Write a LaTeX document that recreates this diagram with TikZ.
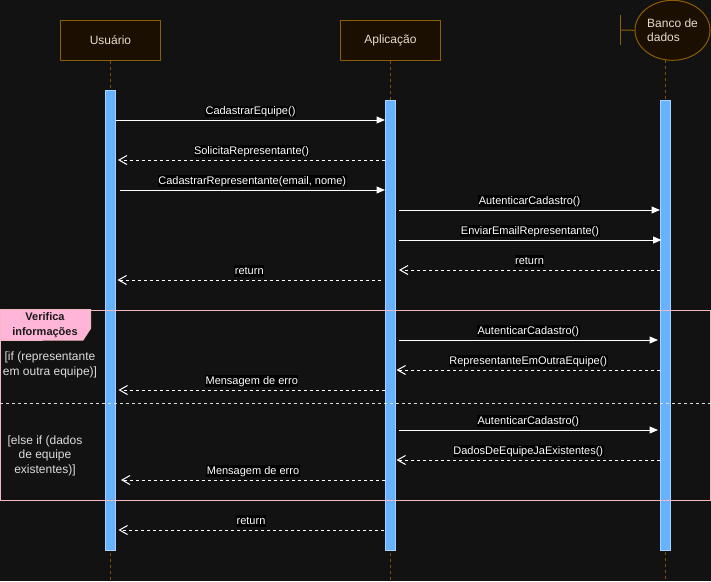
\documentclass[tikz,border=0pt]{standalone}
\usepackage{fontspec}
\setmainfont{Liberation Sans}
\usetikzlibrary{arrows.meta,shapes.geometric,calc}
\definecolor{bgc}{HTML}{121212}
\definecolor{boxfill}{HTML}{1A0F00}
\definecolor{boxdraw}{HTML}{8C5E00}
\definecolor{boxtext}{HTML}{E6DCCB}
\definecolor{lifec}{HTML}{7A5200}
\definecolor{barfill}{HTML}{66B2FF}
\definecolor{bardraw}{HTML}{A6D2FF}
\definecolor{framec}{HTML}{F4B8C0}
\definecolor{tabc}{HTML}{FFB5D8}
\definecolor{condc}{HTML}{DCDCDC}
\begin{document}
\begin{tikzpicture}[x=1pt,y=-1pt,
  actorbox/.style={rectangle, draw=boxdraw, fill=boxfill, line width=1pt, minimum width=100pt, minimum height=40pt, inner sep=0pt, text=boxtext, font=\fontsize{12}{14}\selectfont},
  entitybox/.style={ellipse, draw=boxdraw, fill=boxfill, line width=1pt, minimum width=75pt, minimum height=60pt, inner sep=0pt, text=boxtext, align=left, font=\fontsize{12}{14}\selectfont},
  lifeline/.style={draw=lifec, line width=1pt, dash pattern=on 3pt off 3pt},
  actbar/.style={rectangle, draw=bardraw, fill=barfill, line width=1pt, minimum width=10pt, inner sep=0pt},
  msg/.style={draw=white, line width=1pt, -{Triangle[length=8.5pt,width=7pt]}},
  reply/.style={draw=white, line width=1pt, dash pattern=on 3pt off 3pt, -{Straight Barb[length=8pt,width=9pt]}},
  lbl/.style={fill=black, text=white, inner sep=0.5pt, text height=8.3pt, text depth=2.3pt, font=\fontsize{11}{13}\selectfont},
  framebox/.style={rectangle, draw=framec, line width=1pt, inner sep=0pt},
  cond/.style={text=condc, align=center, inner sep=0pt, font=\fontsize{12}{14.5}\selectfont},
]
\fill[bgc] (0,0) rectangle (711,581);
\useasboundingbox (0,0) rectangle (711,581);

% participants
\node[actorbox] (u) at (110.5,40) {Usuário};
\node[actorbox] (a) at (390.5,40) {Aplicação};
\node[entitybox] (b) at (672.5,30.3) {Banco de\\dados};
\coordinate (bbar) at (620.5,15);
\coordinate (bbarend) at (620.5,45);
\draw[draw=boxdraw, line width=1pt] (bbar) -- (bbarend);
\draw[draw=boxdraw, line width=1pt] ($(bbar)!0.5!(bbarend)$) -- (b.west);

% lifelines
\draw[lifeline] (u.south) -- (u.south |- 0,581);
\draw[lifeline] (a.south) -- (a.south |- 0,581);
\coordinate (blife) at (665.5,60);
\draw[lifeline] (blife) -- (blife |- 0,581);

% activation bars
\node[actbar, minimum height=460pt] (ua) at (110.5,320) {};
\node[actbar, minimum height=450pt] (aa) at (390.5,325) {};
\node[actbar, minimum height=450pt] (ba) at (665.5,325) {};

% frame
\node[framebox, minimum width=709.5pt, minimum height=190pt] (fr) at (355.25,405) {};
\draw[draw=framec, fill=tabc, line width=1pt] (fr.north west) -- ++(90.5,0) -- ++(0,19) -- ++(-7.5,11.5) -- (fr.west |- 0,340.5) -- cycle;
\node[text=black!90, align=center, inner sep=0pt, font=\bfseries\fontsize{11}{14.5}\selectfont] (frt) at (45,325) {Verifica\\informações};
\draw[draw=condc, line width=1pt, dash pattern=on 3pt off 3pt] (fr.west |- 0,403.5) -- (fr.east |- 0,403.5);
\node[cond] (c1) at (50,365) {[if (representante\\em outra equipe)]};
\node[cond] (c2) at (45,455.5) {[else if (dados\\de equipe\\existentes)]};

% messages
\draw[msg] (ua.east |- 0,120) -- (aa.west |- 0,120) node[lbl, midway, yshift=8.5pt] {CadastrarEquipe()};
\draw[reply] (aa.west |- 0,160) -- ([xshift=2pt]ua.east |- 0,160) node[lbl, midway, yshift=9pt] {SolicitaRepresentante()};
\draw[msg] ([xshift=3.5pt]ua.east |- 0,190) -- (aa.west |- 0,190) node[lbl, midway, yshift=9pt] {CadastrarRepresentante(email, nome)};
\draw[msg] ([xshift=3pt]aa.east |- 0,210) -- (ba.west |- 0,210) node[lbl, midway, yshift=9pt] {AutenticarCadastro()};
\draw[msg] ([xshift=2.5pt]aa.east |- 0,240) -- ([xshift=1.5pt]ba.west |- 0,240) node[lbl, midway, yshift=9pt] {EnviarEmailRepresentante()};
\draw[reply] (ba.west |- 0,270) -- ([xshift=3pt]aa.east |- 0,270) node[lbl, midway, yshift=9pt] {return};
\draw[reply] ([xshift=-4pt]aa.west |- 0,280) -- ([xshift=1.5pt]ua.east |- 0,280) node[lbl, midway, yshift=9pt] {return};
\draw[msg] ([xshift=2.5pt]aa.east |- 0,340) -- ([xshift=-2pt]ba.west |- 0,340) node[lbl, midway, yshift=9pt] {AutenticarCadastro()};
\draw[reply] (ba.west |- 0,370) -- ([xshift=0.5pt]aa.east |- 0,370) node[lbl, midway, yshift=9pt] {RepresentanteEmOutraEquipe()};
\draw[reply] (aa.west |- 0,390) -- ([xshift=2.5pt]ua.east |- 0,390) node[lbl, midway, yshift=9pt] {Mensagem de erro};
\draw[msg] ([xshift=2.5pt]aa.east |- 0,430) -- ([xshift=-2pt]ba.west |- 0,430) node[lbl, midway, yshift=9pt] {AutenticarCadastro()};
\draw[reply] (ba.west |- 0,460) -- ([xshift=0.5pt]aa.east |- 0,460) node[lbl, midway, yshift=9pt] {DadosDeEquipeJaExistentes()};
\draw[reply] (aa.west |- 0,480) -- ([xshift=5pt]ua.east |- 0,480) node[lbl, midway, yshift=9pt] {Mensagem de erro};
\draw[reply] ([xshift=-1.5pt]aa.west |- 0,530) -- ([xshift=2.5pt]ua.east |- 0,530) node[lbl, midway, yshift=9pt] {return};
\end{tikzpicture}
\end{document}
